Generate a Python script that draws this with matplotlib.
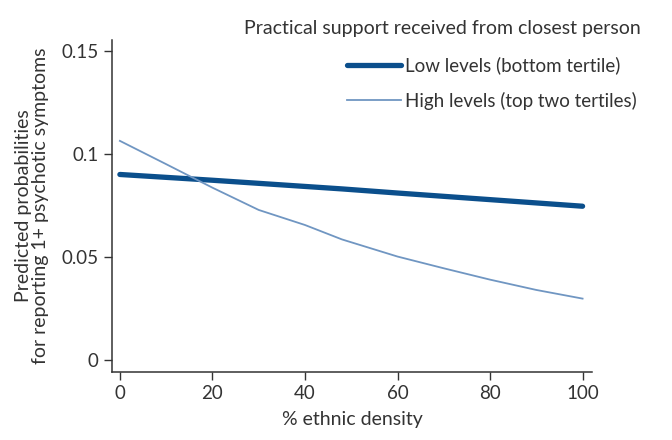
import matplotlib.pyplot as plt
from matplotlib.ticker import FixedLocator

# values
density = [0, 10, 20, 30, 40, 48, 60, 70, 80, 90, 100]
low_support = [0.0900, 0.0886, 0.0872, 0.0857, 0.0842, 0.0830, 0.0810, 0.0794, 0.0778, 0.0762, 0.0746]
high_support = [0.1063, 0.0950, 0.0836, 0.0728, 0.0655, 0.0585, 0.0502, 0.0445, 0.0390, 0.0340, 0.0298]

y_ticks = [0, 0.05, 0.1, 0.15]
y_tick_labels = ['0', '0.05', '0.1', '0.15']
x_ticks = [0, 20, 40, 60, 80, 100]

plt.rcParams['font.family'] = ['Lato', 'DejaVu Sans']
text_col = '#333333'

fig = plt.figure(figsize=(6.72, 4.4), dpi=100)
ax = fig.add_axes([0.1667, 0.1545, 0.714, 0.755])

ax.plot(density, low_support, color='#0b4f8c', lw=3.8, solid_capstyle='round',
        label='Low levels (bottom tertile)')
ax.plot(density, high_support, color='#7096c2', lw=1.3,
        label='High levels (top two tertiles)')

ax.set_xlim(-1.7, 102)
ax.set_ylim(-0.0058, 0.1553)
ax.xaxis.set_major_locator(FixedLocator(x_ticks))
ax.set_yticks(y_ticks)
ax.set_yticklabels(y_tick_labels)

for side in ['top', 'right']:
    ax.spines[side].set_visible(False)
for side in ['left', 'bottom']:
    ax.spines[side].set_color('#333333')
    ax.spines[side].set_linewidth(1.1)

ax.tick_params(axis='both', direction='out', length=6, width=1.0, color='#333333',
               labelsize=13.5, labelcolor=text_col)
ax.tick_params(axis='x', pad=3)

ax.set_xlabel('% ethnic density', fontsize=14, color=text_col, labelpad=7)
ax.set_ylabel('Predicted probabilities\nfor reporting 1+ psychotic symptoms',
              fontsize=14, color=text_col, labelpad=9, linespacing=1.0)

fig.text(0.659, 0.935, 'Practical support received from closest person',
         ha='center', va='center', fontsize=14, color=text_col)
leg = ax.legend(loc='upper left', bbox_to_anchor=(0.462, 0.99), frameon=False,
                fontsize=13.5, handlelength=2.9, handletextpad=0.2,
                labelspacing=0.95, borderaxespad=0.3)
for t in leg.get_texts():
    t.set_color(text_col)

fig.savefig('out.png', dpi=100)
